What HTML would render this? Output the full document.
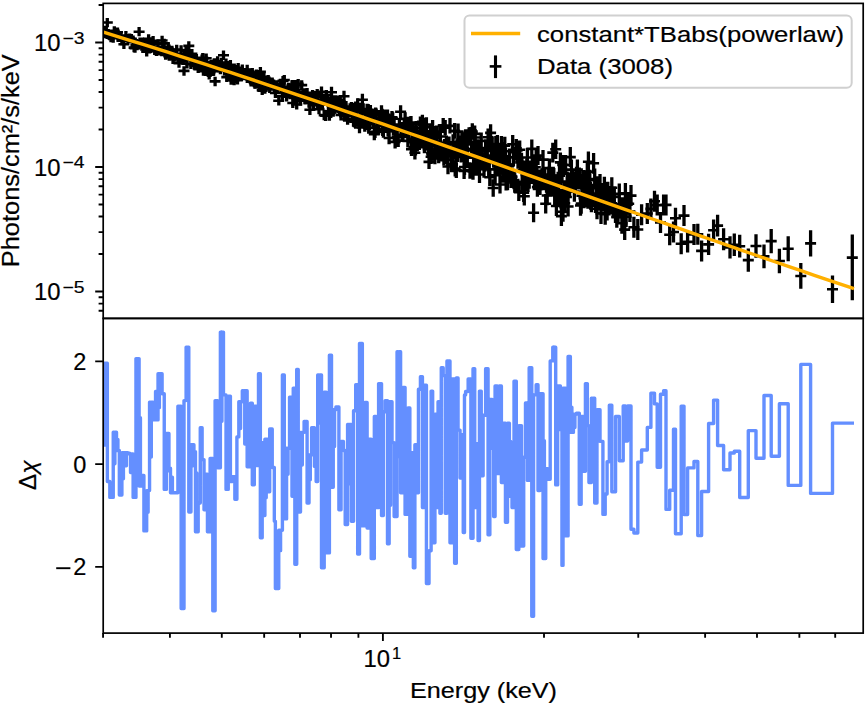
<!DOCTYPE html>
<html><head><meta charset="utf-8"><style>html,body{margin:0;padding:0;background:#fff;overflow:hidden}svg{display:block}</style></head>
<body><svg width="865" height="705" viewBox="0 0 865 705">
<defs><clipPath id="c1"><rect x="103.2" y="3.4" width="760.0" height="315.0"/></clipPath>
<clipPath id="c2"><rect x="103.2" y="318.4" width="760.0" height="314.70000000000005"/></clipPath></defs>
<rect width="865" height="705" fill="#fff"/>
<g clip-path="url(#c1)"><path d="M104.3,25.8V35.0M105.3,29.1V38.3M106.3,26.4V35.6M107.3,17.9V27.2M108.2,29.8V39.0M109.0,30.4V39.6M109.8,31.1V40.3M111.0,33.1V42.3M112.1,31.0V40.2M113.2,33.6V42.8M114.3,26.3V35.5M115.4,29.5V38.7M116.5,28.1V37.4M117.5,27.6V36.8M118.4,31.1V40.4M119.3,31.0V40.2M120.2,31.1V40.3M121.0,32.2V41.5M121.9,36.1V45.3M123.9,39.7V48.9M125.9,30.9V40.2M127.9,33.9V43.2M129.7,33.5V42.8M131.4,34.1V43.4M133.1,35.6V44.9M134.1,42.9V52.2M135.0,43.4V52.7M135.9,40.6V49.9M137.0,41.0V50.3M138.1,39.9V49.2M139.1,27.0V36.3M140.0,37.5V46.9M140.9,39.3V48.6M141.8,41.4V50.7M142.5,37.4V46.7M143.2,42.1V51.4M143.9,41.1V50.4M144.8,39.0V48.4M145.8,39.0V48.3M146.7,47.0V56.4M147.6,43.6V52.9M148.6,34.3V43.6M149.6,44.3V53.6M150.7,39.8V49.2M151.9,37.5V46.8M153.1,36.1V45.5M154.7,45.6V55.0M156.4,46.6V55.9M158.0,39.6V49.0M159.4,46.1V55.5M160.7,45.7V55.1M162.1,35.8V45.2M162.8,43.3V52.7M163.5,45.2V54.5M164.2,38.7V48.0M164.9,48.3V57.6M165.6,50.3V59.7M166.3,49.4V58.8M167.2,49.2V58.6M168.1,42.4V51.8M169.0,44.5V53.9M169.5,51.0V60.4M170.0,47.2V56.6M170.5,48.8V58.2M171.8,47.0V56.4M173.0,54.6V64.0M174.3,52.3V61.7M175.5,49.8V59.2M176.7,44.8V54.2M177.9,53.4V62.9M179.0,58.3V67.8M180.1,52.6V62.0M181.1,45.3V54.8M182.1,52.5V61.9M183.0,55.3V64.8M184.0,66.2V75.7M184.7,50.8V60.2M185.4,53.4V62.8M186.1,46.3V55.7M187.0,58.9V68.4M187.9,50.4V59.8M188.8,41.2V50.6M189.5,51.6V61.0M190.2,50.6V60.1M190.9,59.4V68.9M191.9,49.0V58.5M192.9,54.0V63.5M193.9,53.7V63.2M194.4,55.5V65.0M195.0,60.9V70.4M195.5,55.0V64.5M196.4,54.0V63.5M197.3,59.2V68.7M198.2,63.6V73.1M198.9,59.1V68.6M199.6,62.3V71.8M200.3,61.6V71.1M200.9,61.6V71.1M201.5,60.2V69.7M202.1,54.4V63.9M202.8,53.1V62.6M203.4,66.3V75.8M204.0,58.6V68.1M204.5,64.6V74.1M205.0,58.4V67.9M205.5,63.9V73.4M206.2,53.5V63.0M206.8,57.5V67.0M207.4,61.2V70.7M208.3,67.5V77.0M209.2,70.0V79.5M210.1,67.5V77.0M211.0,59.8V69.3M211.9,64.4V73.9M212.8,61.3V70.8M213.6,66.3V75.8M214.3,58.2V67.7M215.1,76.7V86.2M215.9,58.2V67.7M216.8,62.6V72.1M217.6,56.3V65.9M218.5,62.7V72.3M219.4,62.2V71.8M220.4,64.8V74.3M221.4,57.8V67.3M222.4,62.4V71.9M223.5,50.4V60.0M224.3,63.4V73.0M225.2,63.6V73.1M226.0,58.4V68.0M226.8,72.3V81.9M227.5,61.1V70.7M228.2,69.4V79.0M229.0,63.0V72.6M229.7,65.1V74.7M230.4,59.9V69.5M231.1,75.2V84.8M231.8,70.5V80.1M232.5,70.0V79.6M233.3,64.9V74.5M234.1,75.6V85.2M234.8,70.3V79.9M235.5,70.0V79.6M236.2,65.1V74.7M236.9,73.2V82.8M237.5,74.9V84.5M238.2,63.1V72.7M238.8,67.3V76.9M240.0,68.4V78.0M241.2,71.8V81.4M242.3,64.4V74.1M243.9,70.7V80.3M245.5,69.8V79.4M247.2,64.8V74.4M248.2,73.0V82.6M249.4,68.8V78.5M250.5,74.5V84.2M251.1,76.9V86.6M251.7,76.2V85.9M252.3,67.9V77.5M253.0,70.5V80.1M253.6,75.2V84.9M254.3,77.5V87.2M255.0,79.1V88.7M255.7,71.8V81.5M256.4,69.5V79.2M257.1,69.9V79.6M257.8,78.4V88.0M258.5,77.1V86.7M259.1,82.3V92.0M259.7,77.8V87.5M260.4,67.1V76.8M261.0,78.3V88.0M261.6,79.1V88.7M262.2,85.3V95.0M262.6,72.0V81.7M263.1,82.3V92.0M263.5,76.1V85.8M263.9,73.1V82.8M264.4,83.7V93.3M264.9,84.1V93.8M265.8,82.3V92.0M266.6,76.8V86.5M267.5,77.0V86.7M268.2,75.1V84.8M269.0,76.5V86.2M269.7,83.3V93.0M270.5,79.4V89.1M271.4,80.6V90.3M272.2,77.4V87.1M272.9,81.0V90.7M273.6,79.4V89.1M274.3,82.5V92.2M274.7,83.0V92.7M275.0,81.2V90.9M275.4,88.1V97.9M276.5,80.3V90.1M277.6,83.3V93.0M278.8,95.9V105.6M280.0,80.6V90.4M281.2,81.9V91.7M282.4,91.4V101.1M283.0,76.0V85.8M283.7,83.8V93.6M284.3,75.1V84.8M285.1,87.4V97.1M285.8,87.4V97.2M286.6,91.7V101.4M287.6,86.6V96.4M288.6,82.8V92.5M289.6,85.4V95.2M290.4,88.8V98.6M291.2,86.1V95.8M292.0,80.2V90.0M292.4,79.9V89.7M292.8,98.2V107.9M293.2,91.7V101.5M293.8,93.0V102.8M294.3,87.8V97.5M294.9,80.1V89.9M295.5,87.4V97.2M296.1,88.4V98.2M296.7,99.6V109.4M297.2,91.5V101.3M297.7,87.0V96.8M298.2,79.0V88.8M299.0,89.1V98.9M299.7,92.7V102.5M300.5,95.7V105.5M301.7,80.2V90.1M302.9,90.1V100.0M304.1,88.3V98.2M305.1,94.6V104.5M306.1,93.1V103.1M307.1,87.9V97.9M307.7,94.2V104.2M308.4,93.7V103.8M309.0,97.7V107.8M309.9,104.8V114.9M310.8,96.2V106.3M311.6,93.4V103.6M312.6,90.0V100.2M313.5,99.8V110.1M314.4,90.9V101.2M315.0,95.9V106.2M315.6,91.2V101.5M316.1,96.2V106.5M316.7,92.0V102.4M317.2,89.1V99.5M317.7,98.3V108.7M319.0,103.8V114.3M320.2,98.8V109.2M321.5,86.4V96.9M322.4,99.4V109.9M323.3,95.2V105.8M324.2,109.8V120.3M324.9,93.4V104.0M325.6,110.3V120.9M326.4,90.1V100.7M327.4,94.2V104.9M328.4,106.1V116.8M329.4,110.0V120.8M330.1,97.1V107.8M330.8,107.1V117.9M331.5,86.8V97.6M332.1,100.3V111.1M332.7,95.3V106.2M333.2,104.1V115.0M334.1,102.5V113.4M335.0,101.1V112.1M335.9,95.2V106.1M336.9,98.6V109.6M337.9,102.3V113.3M338.9,95.8V106.8M339.6,104.0V115.1M340.3,95.9V107.0M341.0,109.4V120.5M341.8,98.9V110.0M342.6,105.9V117.1M343.4,101.8V113.0M344.0,90.7V101.9M344.6,110.5V121.7M345.2,103.6V114.8M346.0,100.9V112.2M346.8,107.2V118.5M347.6,113.5V124.8M348.8,105.9V117.3M350.1,103.3V114.7M351.4,101.9V113.4M352.1,106.5V118.0M352.8,104.5V116.0M353.5,115.3V126.8M354.3,115.7V127.3M355.0,115.9V127.5M355.7,101.4V113.0M356.4,105.8V117.4M357.0,114.0V125.6M357.7,98.3V110.0M358.3,114.8V126.4M358.9,117.1V128.8M359.5,121.6V133.3M360.4,103.5V115.2M361.4,106.6V118.4M362.4,93.8V105.6M363.2,103.2V115.0M364.0,116.3V128.2M364.8,120.0V131.8M365.6,112.1V124.0M366.4,118.2V130.1M367.1,103.7V115.6M367.7,108.5V120.5M368.2,104.1V116.0M368.7,121.7V133.7M369.6,118.0V130.1M370.4,104.9V116.9M371.2,110.3V122.4M372.2,108.7V120.8M373.3,115.6V127.7M374.3,128.0V140.2M375.0,125.7V137.9M375.6,107.4V119.6M376.2,108.5V120.8M377.0,116.4V128.7M377.8,119.4V131.7M378.6,122.5V134.8M379.6,114.4V126.8M380.6,114.7V127.0M381.5,105.2V117.6M382.1,108.8V121.2M382.7,123.4V135.9M383.4,125.4V137.8M383.9,111.4V123.9M384.5,109.5V122.0M385.1,110.5V123.1M385.9,110.1V122.7M386.7,120.1V132.7M387.5,109.5V122.1M388.1,123.8V136.4M388.6,113.5V126.2M389.1,131.6V144.3M390.1,119.5V132.2M391.1,119.8V132.5M392.0,111.0V123.7M392.7,112.3V125.0M393.4,122.9V135.7M394.1,118.1V130.9M395.1,135.5V148.4M396.1,124.5V137.4M397.1,130.5V143.4M398.2,134.1V147.1M399.4,118.1V131.0M400.6,105.3V118.3M401.4,121.9V134.9M402.1,128.0V141.1M402.9,128.9V142.1M403.6,124.7V137.9M404.3,119.4V132.6M405.1,112.3V125.5M406.0,124.9V138.2M407.0,116.8V130.2M407.9,134.2V147.6M408.6,126.7V140.1M409.2,119.4V132.8M409.9,117.0V130.5M410.4,116.6V130.1M411.0,116.0V129.5M411.5,142.5V156.1M412.1,131.9V145.5M412.7,121.5V135.1M413.3,125.8V139.5M413.9,140.6V154.3M414.4,135.4V149.1M414.9,145.8V159.5M415.5,141.8V155.6M416.1,121.1V134.9M416.8,125.5V139.3M417.3,137.6V151.4M417.9,129.4V143.3M418.4,134.4V148.3M419.1,131.0V145.0M419.8,130.1V144.1M420.4,116.5V130.6M421.1,134.5V148.5M421.8,128.8V142.9M422.4,114.8V128.9M423.1,117.7V131.8M423.7,130.8V145.0M424.4,139.1V153.3M425.1,127.6V141.9M425.7,124.3V138.6M426.4,117.3V131.6M427.3,133.8V148.1M428.2,141.9V156.3M429.0,154.7V169.1M429.7,137.3V151.7M430.4,125.0V139.5M431.1,149.5V164.1M431.6,146.1V160.7M432.1,138.4V153.0M432.6,120.0V134.6M433.4,126.4V141.0M434.2,128.3V143.0M434.9,149.6V164.3M435.5,134.9V149.7M436.0,128.7V143.5M436.5,125.5V140.4M437.0,134.2V149.0M437.5,144.9V159.8M438.0,144.1V159.0M438.7,148.4V163.3M439.3,141.3V156.3M439.9,124.0V139.0M440.4,129.0V144.0M440.8,141.2V156.3M441.3,146.4V161.5M441.9,144.3V159.4M442.6,143.5V158.6M443.2,118.0V133.1M443.9,150.2V165.4M444.6,138.9V154.1M445.2,120.1V135.3M445.8,148.1V163.4M446.4,135.4V150.8M446.9,148.6V163.9M448.0,158.8V174.2M449.0,136.5V152.0M450.0,118.1V133.6M450.8,145.4V160.9M451.6,156.7V172.3M452.4,156.6V172.2M453.1,134.3V150.0M453.9,143.3V159.0M454.6,123.1V138.8M455.2,160.6V176.4M455.8,149.1V164.9M456.3,162.3V178.1M456.9,139.3V155.2M457.5,146.1V162.0M458.1,123.6V139.6M458.7,135.4V151.4M459.4,135.9V151.9M460.0,135.5V151.5M460.4,137.0V153.0M460.8,140.2V156.3M461.2,146.3V162.4M461.9,131.2V147.3M462.6,137.7V153.8M463.2,137.5V153.7M463.7,139.9V156.1M464.1,162.8V179.0M464.5,158.9V175.1M464.9,136.1V152.3M465.2,132.3V148.6M465.6,129.3V145.6M466.4,147.7V164.1M467.3,149.6V165.9M468.1,129.2V145.6M469.1,127.2V143.7M470.0,162.2V178.7M470.9,127.0V143.5M471.6,142.2V158.8M472.3,123.2V139.8M473.0,163.2V179.8M473.6,155.9V172.6M474.2,140.8V157.5M474.7,125.5V142.3M475.2,129.1V145.9M475.7,149.2V166.0M476.2,157.7V174.5M476.9,142.8V159.7M477.5,139.6V156.5M478.1,144.1V161.0M478.5,157.5V174.4M479.0,150.0V167.0M479.5,166.0V183.0M480.1,146.5V163.5M480.7,141.3V158.3M481.2,132.4V149.5M481.9,150.5V167.6M482.5,152.2V169.3M483.1,153.1V170.3M484.0,160.5V177.7M484.8,154.5V171.7M485.6,139.4V156.7M486.4,142.2V159.5M487.3,150.8V168.2M488.1,128.6V146.0M488.7,160.6V178.0M489.3,160.7V178.1M489.8,168.6V186.0M490.6,124.2V141.7M491.4,140.9V158.5M492.2,137.3V154.9M492.7,146.7V164.3M493.2,179.2V196.8M493.6,150.0V167.7M494.1,147.3V165.0M494.6,149.0V166.7M495.1,166.3V184.1M495.8,136.0V153.8M496.6,150.2V168.0M497.4,135.1V153.0M498.0,156.1V174.0M498.6,149.7V167.7M499.3,158.0V175.9M500.0,175.5V193.5M500.7,144.5V162.6M501.4,136.1V154.2M502.1,153.1V171.1M502.8,164.1V182.1M503.5,161.5V179.6M504.1,142.2V160.3M504.8,136.8V154.9M505.4,147.2V165.3M506.1,172.3V190.5M506.8,165.1V183.3M507.5,172.0V190.2M508.1,155.4V173.7M508.8,156.9V175.1M509.4,148.4V166.6M510.3,163.6V181.9M511.1,169.8V188.1M512.0,167.6V185.9M512.7,135.1V153.5M513.4,148.2V166.6M514.0,170.9V189.3M514.8,173.3V191.8M515.5,175.2V193.6M516.3,139.0V157.5M517.1,141.2V159.7M518.0,150.1V168.7M518.8,182.3V200.9M519.7,140.4V159.0M520.6,153.1V171.7M521.5,152.7V171.3M522.2,172.7V191.3M523.0,160.6V179.3M523.7,183.2V202.0M524.3,186.9V205.6M524.9,172.3V191.1M525.5,162.8V181.6M526.1,165.5V184.3M526.8,158.6V177.4M527.4,148.1V167.0M528.0,173.2V192.0M528.6,167.1V185.9M529.2,169.8V188.7M530.0,160.4V179.3M530.9,161.7V180.7M531.8,139.4V158.3M532.4,158.8V177.8M533.0,164.5V183.5M533.6,203.3V222.3M534.4,171.2V190.2M535.3,157.8V176.8M536.2,148.4V167.5M536.8,167.9V187.0M537.4,177.6V196.7M538.0,145.9V165.1M538.7,175.9V195.0M539.3,169.4V188.6M540.0,175.9V195.1M541.0,171.2V190.4M542.0,168.2V187.5M543.0,150.0V169.3M543.9,171.0V190.3M544.8,168.9V188.2M545.7,194.1V213.4M546.5,173.3V192.7M547.2,185.8V205.2M547.9,173.4V192.8M548.7,166.8V186.3M549.4,158.4V177.9M550.2,176.7V196.2M551.1,167.4V186.9M551.9,175.7V195.3M552.8,142.8V162.4M553.8,168.1V187.7M554.7,185.3V204.9M555.7,139.4V159.0M556.4,196.2V215.9M557.0,174.6V194.3M557.7,180.6V200.3M558.6,186.3V206.0M559.5,165.7V185.5M560.4,152.5V172.3M560.9,188.8V208.6M561.4,206.1V226.0M562.0,163.1V183.0M562.3,188.7V208.6M562.7,154.9V174.8M563.0,201.8V221.7M563.9,182.0V201.9M564.7,193.2V213.2M565.6,155.0V175.0M566.4,187.1V207.0M567.2,171.5V191.5M568.1,196.4V216.5M568.8,172.4V192.5M569.6,177.2V197.3M570.3,147.0V167.1M571.4,159.5V179.6M572.4,170.7V190.9M573.4,171.3V191.5M574.4,181.5V201.8M575.4,173.4V193.6M576.5,166.8V187.1M577.4,159.4V179.7M578.3,169.2V189.6M579.3,167.5V187.9M579.9,169.1V189.4M580.5,195.2V215.7M581.2,193.2V213.7M581.9,185.5V205.9M582.6,174.1V194.5M583.3,170.0V190.5M584.0,187.8V208.3M584.7,170.2V190.7M585.4,186.8V207.3M586.1,177.1V197.7M586.7,173.1V193.7M587.3,161.5V182.1M587.9,188.2V208.8M588.4,151.5V172.2M589.0,174.7V195.4M589.8,169.7V190.4M590.6,189.1V209.8M591.4,191.5V212.3M592.5,186.2V207.0M593.6,152.9V173.8M594.7,168.6V189.4M595.5,192.2V213.0M596.2,177.0V197.9M597.0,198.3V219.2M598.0,176.2V197.2M599.0,189.6V210.5M600.0,173.9V194.9M601.0,202.9V223.9M602.0,188.2V209.2M602.9,184.3V205.3M603.7,186.6V207.6M604.4,176.8V197.8M605.2,203.8V224.8M605.8,181.9V202.9M606.5,191.9V212.9M607.1,199.6V220.6M607.8,181.7V202.7M608.6,186.1V207.1M609.3,192.6V213.6M610.2,190.9V211.9M611.0,193.2V214.2M611.8,177.2V198.2M613.1,197.1V218.1M614.3,186.4V207.4M615.5,202.0V223.0M616.8,206.8V227.8M618.0,202.9V223.9M619.3,183.4V204.4M620.6,197.2V218.2M621.9,212.7V233.7M623.2,197.2V218.2M623.9,202.9V223.9M624.7,219.1V240.1M625.4,182.9V203.9M626.1,206.1V227.1M626.9,192.6V213.6M627.6,193.4V214.4M628.7,193.3V214.3M629.9,201.1V222.1M631.0,185.1V206.1M633.9,216.8V237.8M637.8,219.0V240.0M641.6,204.2V225.2M647.3,203.0V224.0M650.9,198.4V219.4M654.5,190.7V211.7M657.2,194.6V215.6M660.5,212.0V233.0M663.6,194.5V215.5M666.0,194.4V215.4M669.7,224.3V245.3M673.5,221.5V242.5M675.5,207.8V228.8M681.2,233.3V254.3M684.0,205.1V226.1M687.6,231.4V252.4M694.0,223.9V244.9M697.8,223.8V244.8M701.6,240.4V261.5M708.6,233.7V255.1M713.6,219.4V241.0M717.6,214.7V236.5M723.6,228.2V250.2M730.0,236.3V258.6M734.3,233.5V256.0M739.7,234.8V257.5M748.3,248.5V271.7M756.0,234.3V257.8M764.0,244.4V268.3M771.2,229.0V253.2M779.4,248.8V273.3M788.2,236.3V261.2M800.8,263.1V288.8M810.6,230.3V256.5M832.5,275.5V303.1M852.3,234.5V300.3" stroke="#000" stroke-width="3.3" fill="none"/><path d="M98.8,30.4H109.8M99.8,33.7H110.8M100.8,31.0H111.8M101.8,22.5H112.8M102.7,34.4H113.7M103.5,35.0H114.5M104.3,35.7H115.3M105.5,37.7H116.5M106.6,35.6H117.6M107.8,38.2H118.8M108.8,30.9H119.8M109.9,34.1H120.9M111.0,32.8H122.0M112.0,32.2H123.0M112.9,35.8H123.9M113.8,35.6H124.8M114.7,35.7H125.7M115.5,36.8H126.5M116.4,40.7H127.4M118.4,44.3H129.4M120.4,35.5H131.4M122.4,38.5H133.4M124.2,38.2H135.2M125.9,38.7H136.9M127.6,40.2H138.6M128.6,47.6H139.6M129.5,48.1H140.5M130.4,45.3H141.4M131.5,45.7H142.5M132.6,44.5H143.6M133.6,31.7H144.6M134.5,42.2H145.5M135.4,43.9H146.4M136.2,46.0H147.2M137.0,42.1H148.0M137.7,46.8H148.7M138.4,45.8H149.4M139.3,43.7H150.3M140.3,43.6H151.3M141.2,51.7H152.2M142.1,48.2H153.1M143.1,38.9H154.1M144.1,48.9H155.1M145.2,44.5H156.2M146.4,42.2H157.4M147.6,40.8H158.6M149.2,50.3H160.2M150.9,51.3H161.9M152.5,44.3H163.5M153.9,50.8H164.9M155.2,50.4H166.2M156.6,40.5H167.6M157.3,48.0H168.3M158.0,49.8H169.0M158.8,43.4H169.8M159.4,52.9H170.4M160.1,55.0H171.1M160.8,54.1H171.8M161.7,53.9H172.7M162.6,47.1H173.6M163.5,49.2H174.5M164.0,55.7H175.0M164.5,51.9H175.5M165.0,53.5H176.0M166.3,51.7H177.3M167.5,59.3H178.5M168.8,57.0H179.8M170.0,54.5H181.0M171.2,49.5H182.2M172.4,58.1H183.4M173.5,63.1H184.5M174.6,57.3H185.6M175.6,50.1H186.6M176.6,57.2H187.6M177.5,60.1H188.5M178.5,70.9H189.5M179.2,55.5H190.2M179.9,58.1H190.9M180.6,51.0H191.6M181.5,63.7H192.5M182.4,55.1H193.4M183.3,45.9H194.3M184.0,56.3H195.0M184.7,55.3H195.7M185.4,64.2H196.4M186.4,53.8H197.4M187.4,58.7H198.4M188.4,58.4H199.4M188.9,60.3H199.9M189.5,65.7H200.5M190.0,59.7H201.0M190.9,58.7H201.9M191.8,63.9H202.8M192.7,68.4H203.7M193.4,63.9H204.4M194.1,67.0H205.1M194.8,66.3H205.8M195.4,66.4H206.4M196.0,65.0H207.0M196.6,59.2H207.6M197.3,57.9H208.3M197.9,71.1H208.9M198.5,63.4H209.5M199.0,69.4H210.0M199.5,63.2H210.5M200.0,68.7H211.0M200.7,58.3H211.7M201.3,62.3H212.3M201.9,66.0H212.9M202.8,72.2H213.8M203.7,74.8H214.7M204.6,72.3H215.6M205.5,64.6H216.5M206.4,69.1H217.4M207.3,66.1H218.3M208.1,71.1H219.1M208.8,63.0H219.8M209.6,81.4H220.6M210.4,62.9H221.4M211.2,67.3H222.2M212.1,61.1H223.1M213.0,67.5H224.0M213.9,67.0H224.9M214.9,69.5H225.9M215.9,62.6H226.9M216.9,67.2H227.9M218.0,55.2H229.0M218.8,68.2H229.8M219.7,68.4H230.7M220.5,63.2H231.5M221.3,77.1H232.3M222.0,65.9H233.0M222.8,74.2H233.8M223.5,67.8H234.5M224.2,69.9H235.2M224.9,64.7H235.9M225.6,80.0H236.6M226.3,75.3H237.3M227.0,74.8H238.0M227.8,69.7H238.8M228.6,80.4H239.6M229.3,75.1H240.3M230.0,74.8H241.0M230.7,69.9H241.7M231.4,78.0H242.4M232.0,79.7H243.0M232.7,67.9H243.7M233.3,72.1H244.3M234.5,73.2H245.5M235.7,76.6H246.7M236.8,69.2H247.8M238.4,75.5H249.4M240.0,74.6H251.0M241.7,69.6H252.7M242.8,77.8H253.8M243.9,73.6H254.9M245.0,79.3H256.0M245.6,81.8H256.6M246.2,81.0H257.2M246.8,72.7H257.8M247.5,75.3H258.5M248.1,80.0H259.1M248.8,82.4H259.8M249.5,83.9H260.5M250.2,76.6H261.2M250.9,74.4H261.9M251.6,74.8H262.6M252.3,83.2H263.3M253.0,81.9H264.0M253.6,87.1H264.6M254.2,82.7H265.2M254.9,71.9H265.9M255.5,83.1H266.5M256.1,83.9H267.1M256.7,90.2H267.7M257.1,76.9H268.1M257.6,87.1H268.6M258.0,80.9H269.0M258.4,77.9H269.4M258.9,88.5H269.9M259.4,88.9H270.4M260.3,87.1H271.3M261.1,81.6H272.1M262.0,81.9H273.0M262.7,80.0H273.7M263.5,81.4H274.5M264.2,88.2H275.2M265.0,84.2H276.0M265.9,85.4H276.9M266.7,82.3H277.7M267.4,85.9H278.4M268.1,84.2H279.1M268.8,87.4H279.8M269.2,87.8H280.2M269.5,86.0H280.5M269.9,93.0H280.9M271.0,85.2H282.0M272.1,88.1H283.1M273.2,100.8H284.2M274.5,85.5H285.5M275.7,86.8H286.7M276.9,96.3H287.9M277.5,80.9H288.5M278.2,88.7H289.2M278.8,80.0H289.8M279.6,92.3H290.6M280.3,92.3H291.3M281.1,96.6H292.1M282.1,91.5H293.1M283.1,87.6H294.1M284.1,90.3H295.1M284.9,93.7H295.9M285.7,90.9H296.7M286.5,85.1H297.5M286.9,84.8H297.9M287.3,103.0H298.3M287.8,96.6H298.8M288.3,97.9H299.3M288.8,92.6H299.8M289.4,85.0H300.4M290.0,92.3H301.0M290.6,93.3H301.6M291.2,104.5H302.2M291.7,96.4H302.7M292.2,91.9H303.2M292.7,83.9H303.7M293.5,94.0H304.5M294.2,97.6H305.2M295.0,100.6H306.0M296.2,85.1H307.2M297.4,95.0H308.4M298.6,93.3H309.6M299.6,99.6H310.6M300.6,98.1H311.6M301.6,92.9H312.6M302.2,99.2H313.2M302.9,98.8H313.9M303.5,102.7H314.5M304.4,109.8H315.4M305.3,101.2H316.3M306.1,98.5H317.1M307.1,95.1H318.1M308.0,104.9H319.0M308.9,96.1H319.9M309.5,101.0H320.5M310.1,96.4H321.1M310.6,101.4H321.6M311.2,97.2H322.2M311.7,94.3H322.7M312.2,103.5H323.2M313.5,109.1H324.5M314.7,104.0H325.7M316.0,91.7H327.0M316.9,104.7H327.9M317.8,100.5H328.8M318.7,115.1H329.7M319.4,98.7H330.4M320.1,115.6H331.1M320.9,95.4H331.9M321.9,99.6H332.9M322.9,111.4H333.9M323.9,115.4H334.9M324.6,102.5H335.6M325.3,112.5H336.3M326.0,92.2H337.0M326.6,105.7H337.6M327.2,100.7H338.2M327.8,109.5H338.8M328.6,107.9H339.6M329.5,106.6H340.5M330.4,100.7H341.4M331.4,104.1H342.4M332.4,107.8H343.4M333.4,101.3H344.4M334.1,109.5H345.1M334.8,101.5H345.8M335.5,115.0H346.5M336.3,104.5H347.3M337.1,111.5H348.1M337.9,107.4H348.9M338.5,96.3H349.5M339.1,116.1H350.1M339.7,109.2H350.7M340.5,106.5H351.5M341.3,112.8H352.3M342.1,119.2H353.1M343.3,111.6H354.3M344.6,109.0H355.6M345.9,107.7H356.9M346.6,112.2H357.6M347.3,110.2H358.3M348.0,121.0H359.0M348.8,121.5H359.8M349.5,121.7H360.5M350.2,107.2H361.2M350.9,111.6H361.9M351.5,119.8H362.5M352.2,104.1H363.2M352.8,120.6H363.8M353.4,123.0H364.4M354.0,127.5H365.0M354.9,109.4H365.9M355.9,112.5H366.9M356.9,99.7H367.9M357.7,109.1H368.7M358.5,122.2H369.5M359.3,125.9H370.3M360.1,118.1H371.1M360.9,124.2H371.9M361.6,109.7H372.6M362.2,114.5H373.2M362.7,110.1H373.7M363.2,127.7H374.2M364.1,124.0H375.1M364.9,110.9H375.9M365.7,116.4H376.7M366.7,114.8H377.7M367.8,121.7H378.8M368.8,134.1H379.8M369.5,131.8H380.5M370.1,113.5H381.1M370.7,114.7H381.7M371.5,122.5H382.5M372.3,125.5H383.3M373.1,128.7H384.1M374.1,120.6H385.1M375.1,120.9H386.1M376.0,111.4H387.0M376.6,115.0H387.6M377.2,129.6H388.2M377.9,131.6H388.9M378.4,117.7H389.4M379.0,115.8H390.0M379.6,116.8H390.6M380.4,116.4H391.4M381.2,126.4H392.2M382.0,115.8H393.0M382.6,130.1H393.6M383.1,119.9H394.1M383.6,138.0H394.6M384.6,125.8H395.6M385.6,126.1H396.6M386.5,117.4H397.5M387.2,118.6H398.2M387.9,129.3H398.9M388.6,124.5H399.6M389.6,141.9H400.6M390.6,130.9H401.6M391.6,137.0H402.6M392.7,140.6H403.7M393.9,124.5H404.9M395.1,111.8H406.1M395.9,128.4H406.9M396.6,134.5H407.6M397.4,135.5H408.4M398.1,131.3H409.1M398.8,126.0H409.8M399.6,118.9H410.6M400.5,131.6H411.5M401.5,123.5H412.5M402.4,140.9H413.4M403.1,133.4H414.1M403.7,126.1H414.7M404.4,123.8H415.4M404.9,123.4H415.9M405.5,122.7H416.5M406.0,149.3H417.0M406.6,138.7H417.6M407.2,128.3H418.2M407.8,132.7H418.8M408.4,147.4H419.4M408.9,142.3H419.9M409.4,152.7H420.4M410.0,148.7H421.0M410.6,128.0H421.6M411.2,132.4H422.2M411.8,144.5H422.8M412.4,136.3H423.4M412.9,141.4H423.9M413.6,138.0H424.6M414.3,137.1H425.3M414.9,123.6H425.9M415.6,141.5H426.6M416.3,135.9H427.3M416.9,121.8H427.9M417.6,124.7H428.6M418.2,137.9H429.2M418.9,146.2H429.9M419.6,134.7H430.6M420.2,131.4H431.2M420.9,124.5H431.9M421.8,141.0H432.8M422.7,149.1H433.7M423.5,161.9H434.5M424.2,144.5H435.2M424.9,132.3H435.9M425.6,156.8H436.6M426.1,153.4H437.1M426.6,145.7H437.6M427.1,127.3H438.1M427.9,133.7H438.9M428.7,135.6H439.7M429.4,157.0H440.4M430.0,142.3H441.0M430.5,136.1H441.5M431.0,133.0H442.0M431.5,141.6H442.5M432.0,152.3H443.0M432.5,151.6H443.5M433.2,155.8H444.2M433.8,148.8H444.8M434.4,131.5H445.4M434.9,136.5H445.9M435.3,148.8H446.3M435.8,154.0H446.8M436.4,151.9H447.4M437.1,151.1H448.1M437.7,125.6H448.7M438.4,157.8H449.4M439.1,146.5H450.1M439.8,127.7H450.8M440.3,155.7H451.3M440.9,143.1H451.9M441.4,156.2H452.4M442.5,166.5H453.5M443.5,144.3H454.5M444.5,125.9H455.5M445.3,153.2H456.3M446.1,164.5H457.1M446.9,164.4H457.9M447.6,142.2H458.6M448.4,151.2H459.4M449.1,130.9H460.1M449.7,168.5H460.7M450.3,157.0H461.3M450.8,170.2H461.8M451.4,147.3H462.4M452.0,154.1H463.0M452.6,131.6H463.6M453.2,143.4H464.2M453.9,143.9H464.9M454.5,143.5H465.5M454.9,145.0H465.9M455.3,148.3H466.3M455.8,154.3H466.8M456.4,139.3H467.4M457.1,145.7H468.1M457.8,145.6H468.8M458.2,148.0H469.2M458.6,170.9H469.6M459.0,167.0H470.0M459.4,144.2H470.4M459.7,140.4H470.7M460.1,137.4H471.1M460.9,155.9H471.9M461.8,157.8H472.8M462.6,137.4H473.6M463.6,135.4H474.6M464.5,170.4H475.5M465.4,135.3H476.4M466.1,150.5H477.1M466.8,131.5H477.8M467.5,171.5H478.5M468.1,164.3H479.1M468.7,149.1H479.7M469.2,133.9H480.2M469.7,137.5H480.7M470.2,157.6H481.2M470.8,166.1H481.8M471.4,151.3H482.4M472.0,148.0H483.0M472.6,152.5H483.6M473.0,165.9H484.0M473.5,158.5H484.5M474.0,174.5H485.0M474.6,155.0H485.6M475.2,149.8H486.2M475.8,140.9H486.8M476.4,159.0H487.4M477.0,160.7H488.0M477.6,161.7H488.6M478.5,169.1H489.5M479.3,163.1H490.3M480.1,148.1H491.1M480.9,150.9H491.9M481.8,159.5H492.8M482.6,137.3H493.6M483.2,169.3H494.2M483.8,169.4H494.8M484.3,177.3H495.3M485.1,132.9H496.1M485.9,149.7H496.9M486.7,146.1H497.7M487.2,155.5H498.2M487.7,188.0H498.7M488.1,158.8H499.1M488.6,156.2H499.6M489.1,157.9H500.1M489.6,175.2H500.6M490.3,144.9H501.3M491.1,159.1H502.1M491.9,144.0H502.9M492.5,165.0H503.5M493.1,158.7H504.1M493.8,167.0H504.8M494.5,184.5H505.5M495.2,153.6H506.2M495.9,145.2H506.9M496.6,162.1H507.6M497.3,173.1H508.3M498.0,170.5H509.0M498.6,151.2H509.6M499.3,145.8H510.3M499.9,156.2H510.9M500.6,181.4H511.6M501.3,174.2H512.3M502.0,181.1H513.0M502.6,164.5H513.6M503.2,166.0H514.2M503.9,157.5H514.9M504.8,172.8H515.8M505.6,178.9H516.6M506.5,176.7H517.5M507.2,144.3H518.2M507.9,157.4H518.9M508.5,180.1H519.5M509.3,182.6H520.3M510.0,184.4H521.0M510.8,148.3H521.8M511.6,150.5H522.6M512.5,159.4H523.5M513.3,191.6H524.3M514.2,149.7H525.2M515.1,162.4H526.1M516.0,162.0H527.0M516.7,182.0H527.7M517.5,170.0H528.5M518.2,192.6H529.2M518.8,196.2H529.8M519.4,181.7H530.4M520.0,172.2H531.0M520.6,174.9H531.6M521.3,168.0H532.3M521.9,157.5H532.9M522.5,182.6H533.5M523.1,176.5H534.1M523.7,179.2H534.7M524.5,169.9H535.5M525.4,171.2H536.4M526.3,148.9H537.3M526.9,168.3H537.9M527.5,174.0H538.5M528.1,212.8H539.1M528.9,180.7H539.9M529.8,167.3H540.8M530.7,157.9H541.7M531.3,177.4H542.3M531.9,187.1H542.9M532.5,155.5H543.5M533.2,185.5H544.2M533.8,179.0H544.8M534.5,185.5H545.5M535.5,180.8H546.5M536.5,177.9H547.5M537.5,159.6H548.5M538.4,180.6H549.4M539.3,178.6H550.3M540.2,203.7H551.2M541.0,183.0H552.0M541.7,195.5H552.7M542.4,183.1H553.4M543.2,176.5H554.2M543.9,168.1H554.9M544.7,186.4H555.7M545.6,177.1H556.6M546.4,185.5H557.4M547.3,152.6H558.3M548.2,177.9H559.2M549.2,195.1H560.2M550.2,149.2H561.2M550.9,206.0H561.9M551.5,184.4H562.5M552.2,190.5H563.2M553.1,196.1H564.1M554.0,175.6H565.0M554.9,162.4H565.9M555.4,198.7H566.4M555.9,216.1H566.9M556.5,173.0H567.5M556.8,198.7H567.8M557.2,164.9H568.2M557.5,211.8H568.5M558.4,191.9H569.4M559.2,203.2H570.2M560.1,165.0H571.1M560.9,197.0H571.9M561.8,181.5H572.8M562.6,206.5H573.6M563.3,182.5H574.3M564.1,187.2H575.1M564.8,157.1H575.8M565.9,169.6H576.9M566.9,180.8H577.9M567.9,181.4H578.9M568.9,191.6H579.9M569.9,183.5H580.9M571.0,177.0H582.0M571.9,169.6H582.9M572.8,179.4H583.8M573.8,177.7H584.8M574.4,179.3H585.4M575.0,205.5H586.0M575.7,203.5H586.7M576.4,195.7H587.4M577.1,184.3H588.1M577.8,180.2H588.8M578.5,198.1H589.5M579.2,180.5H590.2M579.9,197.0H590.9M580.6,187.4H591.6M581.2,183.4H592.2M581.8,171.8H592.8M582.4,198.5H593.4M582.9,161.8H593.9M583.5,185.0H594.5M584.3,180.1H595.3M585.1,199.5H596.1M585.9,201.9H596.9M587.0,196.6H598.0M588.1,163.3H599.1M589.2,179.0H600.2M590.0,202.6H601.0M590.7,187.5H601.7M591.5,208.8H602.5M592.5,186.7H603.5M593.5,200.0H604.5M594.5,184.4H605.5M595.5,213.4H606.5M596.5,198.7H607.5M597.4,194.8H608.4M598.2,197.1H609.2M598.9,187.3H609.9M599.7,214.3H610.7M600.3,192.4H611.3M601.0,202.4H612.0M601.6,210.1H612.6M602.3,192.2H613.3M603.1,196.6H614.1M603.8,203.1H614.8M604.7,201.4H615.7M605.5,203.7H616.5M606.3,187.7H617.3M607.6,207.6H618.6M608.8,196.9H619.8M610.0,212.5H621.0M611.3,217.3H622.3M612.5,213.4H623.5M613.8,193.9H624.8M615.1,207.7H626.1M616.4,223.2H627.4M617.7,207.7H628.7M618.4,213.4H629.4M619.2,229.6H630.2M619.9,193.4H630.9M620.6,216.6H631.6M621.4,203.1H632.4M622.1,203.9H633.1M623.2,203.8H634.2M624.4,211.6H635.4M625.5,195.6H636.5M628.4,227.3H639.4M632.3,229.5H643.3M636.1,214.7H647.1M641.8,213.5H652.8M645.4,208.9H656.4M649.0,201.2H660.0M651.7,205.1H662.7M655.0,222.5H666.0M658.1,205.0H669.1M660.5,204.9H671.5M664.2,234.8H675.2M668.0,232.0H679.0M670.0,218.3H681.0M675.7,243.8H686.7M678.5,215.6H689.5M682.1,241.9H693.1M688.5,234.4H699.5M692.3,234.3H703.3M696.1,250.9H707.1M703.1,244.4H714.1M708.1,230.2H719.1M712.1,225.6H723.1M718.1,239.2H729.1M724.5,247.4H735.5M728.8,244.8H739.8M734.2,246.2H745.2M742.8,260.1H753.8M750.5,246.0H761.5M758.5,256.4H769.5M765.7,241.1H776.7M773.9,261.0H784.9M782.7,248.8H793.7M795.3,276.0H806.3M805.1,243.4H816.1M827.0,289.3H838.0M846.8,257.6H857.8" stroke="#000" stroke-width="2.6" fill="none"/></g><g clip-path="url(#c1)"><path d="M104.3,32.48 L117.0,36.36 L129.7,40.28 L142.3,44.23 L155.0,48.21 L167.7,52.22 L180.4,56.26 L193.1,60.33 L205.7,64.43 L218.4,68.56 L231.1,72.71 L243.8,76.88 L256.5,81.08 L269.1,85.30 L281.8,89.55 L294.5,93.81 L307.2,98.09 L319.9,102.40 L332.5,106.72 L345.2,111.06 L357.9,115.42 L370.6,119.79 L383.3,124.17 L395.9,128.57 L408.6,132.99 L421.3,137.41 L434.0,141.84 L446.7,146.29 L459.3,150.74 L472.0,155.20 L484.7,159.67 L497.4,164.15 L510.0,168.63 L522.7,173.11 L535.4,177.60 L548.1,182.09 L560.8,186.58 L573.4,191.07 L586.1,195.56 L598.8,200.05 L611.5,204.54 L624.2,209.03 L636.8,213.51 L649.5,217.98 L662.2,222.45 L674.9,226.91 L687.6,231.37 L700.2,235.81 L712.9,240.25 L725.6,244.67 L738.3,249.09 L751.0,253.49 L763.6,257.87 L776.3,262.25 L789.0,266.60 L801.7,270.95 L814.4,275.27 L827.0,279.58 L839.7,283.86 L852.4,288.13" fill="none" stroke="#ffb000" stroke-width="3.4" stroke-linecap="square"/></g><g clip-path="url(#c2)"><path d="M104.30,445.00H104.30V363.20H105.06V397.47H105.82V363.20H107.35V481.50H109.82V497.40H110.68V488.30H111.54V497.40H113.25V432.20H114.06V463.82H114.88V432.20H116.50V450.50H117.21V439.48H117.92V450.50H119.35V495.10H121.90V452.80H122.65V478.72H123.41V452.80H124.16V453.17H124.91V452.80H125.67V465.77H126.42V452.80H127.93V453.90H128.79V453.11H129.66V453.90H130.53V472.59H131.39V453.90H133.12V497.40H133.83V479.25H134.54V497.40H135.95V358.60H136.74V469.34H137.53V358.60H139.10V486.00H139.76V417.82H140.43V486.00H141.75V475.50H143.90V530.90H144.59V491.11H145.29V530.90H146.68V490.60H147.39V512.29H148.11V490.60H149.55V402.20H150.44V456.97H151.33V402.20H153.10V419.90H153.92V413.26H154.74V419.90H155.56V391.44H156.38V419.90H158.03V373.80H158.70V407.64H159.38V373.80H160.06V385.03H160.74V373.80H162.10V393.80H164.25V489.40H166.35V433.50H167.00V470.99H167.65V433.50H168.95V468.20H170.50V492.80H171.45V477.16H172.40V492.80H174.30V492.80H175.20V492.80H176.10V492.80H177.90V406.20H178.71V465.01H179.52V406.20H181.15V608.50H181.86V488.02H182.57V608.50H184.00V400.60H186.10V347.30H186.77V371.32H187.45V347.30H188.80V512.10H190.95V444.80H191.69V466.03H192.44V444.80H193.93V451.60H195.47V531.80H196.15V473.03H196.82V531.80H198.18V503.00H200.27V427.80H202.12V459.60H204.03V509.80H205.50V474.30H207.45V531.80H208.11V500.96H208.77V531.80H210.10V458.40H210.77V506.80H211.45V458.40H212.80V610.80H215.10V400.60H217.57V467.80H218.27V418.11H218.97V467.80H220.38V332.10H221.15V421.26H221.93V332.10H223.47V394.90H226.02V489.40H228.25V396.10H230.40V481.50H232.50V476.60H234.85V499.20H236.90V436.90H238.82V401.70H239.70V428.47H240.57V401.70H242.32V390.80H243.13V396.22H243.93V390.80H244.74V444.03H245.54V390.80H247.15V466.80H247.98V427.10H248.80V466.80H250.45V403.30H252.30V484.80H254.30V406.20H256.40V465.60H258.50V373.80H260.35V537.80H262.20V442.60H263.48V515.50H264.90V439.20H265.56V497.78H266.21V439.20H267.52V491.70H269.68V429.00H272.23V467.50H274.33V521.20H275.38V588.60H276.22V538.76H277.06V588.60H278.75V530.30H279.66V550.63H280.57V530.30H282.40V375.00H284.30V518.90H286.58V448.20H287.32V474.22H288.06V448.20H289.55V397.20H291.98V496.20H293.25V388.10H294.85V564.30H296.70V369.50H298.23V512.10H300.48V432.40H301.38V464.96H302.29V432.40H304.10V421.50H304.85V430.03H305.60V421.50H307.10V503.00H309.02V455.00H309.67V479.87H310.32V455.00H311.62V427.80H312.33V444.48H313.04V427.80H314.45V466.40H316.15V481.50H317.70V375.00H318.65V422.98H319.60V375.00H321.50V567.70H322.18V461.02H322.85V567.70H324.20V392.20H326.35V552.90H327.11V473.69H327.88V552.90H329.40V355.20H331.50V487.20H333.25V409.70H333.91V446.55H334.57V409.70H335.90V407.00H336.65V408.60H337.40V407.00H338.90V509.80H341.05V441.40H343.43V450.50H345.20V524.60H347.58V424.40H348.52V483.73H349.46V424.40H351.35V521.20H353.55V410.80H355.70V384.70H357.68V554.10H359.50V343.40H360.21V501.87H360.93V343.40H362.35V525.80H364.82V402.40H367.12V528.00H368.73V439.20H371.20V558.60H371.98V482.07H372.76V558.60H374.33V416.50H376.23V507.60H378.60V383.60H379.33V478.39H380.06V383.60H381.52V515.50H383.35V411.90H385.10V400.60H387.50V543.80H389.15V401.70H389.87V505.18H390.59V401.70H392.02V442.60H394.15V516.60H394.88V457.73H395.60V516.60H397.05V351.80H397.94V456.55H398.83V351.80H400.60V492.80H402.88V387.40H405.07V514.40H405.79V465.94H406.50V514.40H407.92V407.90H409.85V556.30H411.55V452.80H413.35V567.70H414.88V444.80H416.75V492.80H418.45V389.30H420.43V376.80H422.43V507.60H424.38V385.20H426.43V583.60H429.02V550.70H431.12V391.10H432.65V542.70H434.93V414.20H436.52V507.60H438.05V401.70H439.92V513.20H441.27V367.70H443.20V375.60H445.25V513.20H446.95V360.90H447.71V472.13H448.46V360.90H449.98V542.70H452.35V379.00H454.62V563.20H456.33V377.90H458.05V430.10H460.02V478.10H461.25V434.60H463.25V532.50H464.48V394.90H465.60V391.50H468.15V379.00H468.83V388.78H469.51V379.00H470.88V538.20H473.02V368.80H474.73V507.60H476.25V443.70H478.08V540.50H479.45V391.10H481.25V475.80H483.12V415.30H485.62V368.80H488.07V534.80H489.85V399.50H492.23V448.20H493.65V516.60H495.07V385.90H497.35V473.50H499.27V385.90H501.38V482.60H503.48V423.30H505.45V522.30H507.50V423.30H509.38V496.20H510.04V441.35H510.70V496.20H512.02V507.60H514.02V381.30H516.30V549.50H518.80V425.60H519.47V498.03H520.15V425.60H521.50V546.10H523.70V457.30H525.50V402.90H527.40V480.40H529.17V367.70H529.82V441.73H530.47V367.70H531.77V616.30H533.58V394.90H536.17V384.70H538.00V490.60H540.00V393.80H540.76V433.06H541.52V393.80H543.05V558.60H543.72V440.64H544.39V558.60H545.73V468.70H547.93V479.20H550.20V360.90H552.77V347.30H553.51V355.28H554.24V347.30H555.70V484.90H557.67V385.90H558.36V429.71H559.05V385.90H560.42V418.70H561.95V565.40H563.02V388.10H565.60V535.90H568.08V356.40H570.35V432.40H571.11V407.19H571.88V432.40H573.40V414.20H574.16V427.43H574.92V414.20H576.45V413.10H577.16V413.97H577.86V413.10H579.28V504.20H581.15V416.50H583.33V471.30H585.42V383.60H587.35V425.60H588.95V482.60H591.42V398.30H592.24V427.32H593.06V398.30H594.70V503.00H596.97V409.70H600.02V441.40H602.92V514.40H605.20V494.00H607.08V461.80H609.35V405.20H611.83V491.70H615.55V416.50H619.30V460.70H623.20V406.00H625.40V441.00H627.60V406.00H631.00V529.20H633.90V533.00H637.80V462.10H641.60V450.00H647.30V427.40H650.90V393.10H654.50V403.90H657.20V467.20H660.50V394.30H663.60V390.70H666.00V509.40H669.70V490.20H673.50V429.20H675.50V533.70H681.20V406.10H684.00V514.50H687.60V467.90H694.00V461.50H697.80V535.60H701.60V491.50H708.60V423.50H713.60V400.10H717.60V445.50H723.60V469.80H730.00V453.00H734.30V451.20H739.70V497.50H748.30V430.60H756.00V458.20H764.00V395.50H771.20V456.20H779.40V403.70H788.20V485.40H800.80V364.40H810.60V493.40H832.50V423.10H852.30" fill="none" stroke="#648fff" stroke-width="3.4" stroke-linejoin="round" stroke-linecap="square"/></g><rect x="103.2" y="3.4" width="760.0" height="315.0" fill="none" stroke="#000" stroke-width="1.7"/><rect x="103.2" y="318.4" width="760.0" height="314.70000000000005" fill="none" stroke="#000" stroke-width="1.7"/><path d="M95.2,42.50H103.2 M98.6,5.02H103.2 M95.2,167.00H103.2 M98.6,129.52H103.2 M98.6,107.60H103.2 M98.6,92.04H103.2 M98.6,79.98H103.2 M98.6,70.12H103.2 M98.6,61.79H103.2 M98.6,54.57H103.2 M98.6,48.20H103.2 M95.2,291.50H103.2 M98.6,254.02H103.2 M98.6,232.10H103.2 M98.6,216.54H103.2 M98.6,204.48H103.2 M98.6,194.62H103.2 M98.6,186.29H103.2 M98.6,179.07H103.2 M98.6,172.70H103.2 M98.6,310.79H103.2 M98.6,303.57H103.2 M98.6,297.20H103.2 M95.2,361.30H103.2 M95.2,464.10H103.2 M95.2,566.90H103.2 M103.06,633.1V637.7 M169.92,633.1V637.7 M221.79,633.1V637.7 M264.17,633.1V637.7 M300.00,633.1V637.7 M331.03,633.1V637.7 M358.41,633.1V637.7 M382.90,633.1V641.1 M544.01,633.1V637.7 M638.26,633.1V637.7 M705.12,633.1V637.7 M756.99,633.1V637.7 M799.37,633.1V637.7 M835.20,633.1V637.7" stroke="#000" stroke-width="1.85" fill="none"/><g font-family="Liberation Sans, sans-serif" fill="#000" stroke="#000" stroke-width="0.2"><text x="34.0" y="51.1" font-size="23.5" text-anchor="start" textLength="26.5" lengthAdjust="spacingAndGlyphs">10</text><text x="62.5" y="43.5" font-size="16.5" text-anchor="start" textLength="22" lengthAdjust="spacingAndGlyphs">−3</text><text x="34.0" y="175.6" font-size="23.5" text-anchor="start" textLength="26.5" lengthAdjust="spacingAndGlyphs">10</text><text x="62.5" y="168.0" font-size="16.5" text-anchor="start" textLength="22" lengthAdjust="spacingAndGlyphs">−4</text><text x="34.0" y="300.1" font-size="23.5" text-anchor="start" textLength="26.5" lengthAdjust="spacingAndGlyphs">10</text><text x="62.5" y="292.5" font-size="16.5" text-anchor="start" textLength="22" lengthAdjust="spacingAndGlyphs">−5</text><text x="86.3" y="369.7" font-size="23.5" text-anchor="end" >2</text><text x="86.3" y="472.5" font-size="23.5" text-anchor="end" >0</text><text x="86.3" y="575.3" font-size="23.5" text-anchor="end" >2</text><path d="M56.2,568.2H70.4" stroke="#000" stroke-width="1.9"/><text x="363.5" y="667.0" font-size="23.5" text-anchor="start" textLength="26.5" lengthAdjust="spacingAndGlyphs">10</text><text x="392.0" y="658.6" font-size="16.5" text-anchor="start" >1</text><text x="483.5" y="697.5" font-size="22.8" text-anchor="middle" textLength="147" lengthAdjust="spacingAndGlyphs">Energy (keV)</text><text transform="translate(19.4,160.7) rotate(-90)" font-size="23.5" text-anchor="middle" textLength="213" lengthAdjust="spacingAndGlyphs">Photons/cm²/s/keV</text><text transform="translate(36.0,475.3) rotate(-90)" font-size="23" text-anchor="middle" textLength="30" lengthAdjust="spacingAndGlyphs">Δ<tspan font-style="italic">χ</tspan></text><rect x="464.5" y="15.5" width="387.2" height="72.3" rx="5" ry="5" fill="#fff" fill-opacity="0.8" stroke="#d0d0d0" stroke-width="2"/><path d="M471,33.5H520.2" stroke="#ffb000" stroke-width="3.4"/><path d="M495.5,55.4V78.1" stroke="#000" stroke-width="3.1"/><path d="M489.7,66.4H501.4" stroke="#000" stroke-width="2.6"/><text x="537" y="41.5" font-size="22.8" text-anchor="start" textLength="307" lengthAdjust="spacingAndGlyphs">constant*TBabs(powerlaw)</text><text x="537" y="73.9" font-size="22.8" text-anchor="start" textLength="136" lengthAdjust="spacingAndGlyphs">Data (3008)</text></g>
</svg></body></html>
